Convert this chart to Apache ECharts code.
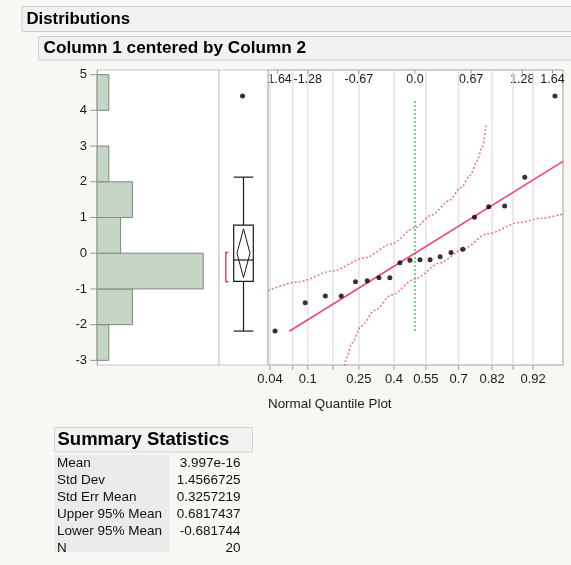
<!DOCTYPE html>
<html>
<head>
<meta charset="utf-8">
<script src="https://cdn.jsdelivr.net/npm/echarts@6/dist/echarts.min.js"></script>
<style>
  html, body { margin: 0; padding: 0; background: #f7f7f4; }
  #chart { width: 571px; height: 565px; }
</style>
</head>
<body>
<div id="chart"></div>
<script>
// Sorted observations of "Column 1 centered by Column 2"
const values = [-2.18, -1.39, -1.20, -1.20, -0.80, -0.77, -0.69, -0.69, -0.27, -0.20,
                -0.18, -0.18, -0.10, 0.02, 0.11, 1.01, 1.30, 1.32, 2.13, 4.40];
// Normal scores (x position of each observation in the quantile plot)
const normalScores = [-1.67, -1.31, -1.07, -0.88, -0.71, -0.57, -0.43, -0.30, -0.18, -0.06,
                      0.06, 0.18, 0.30, 0.43, 0.57, 0.71, 0.88, 1.07, 1.31, 1.67];

// Histogram bins (lower edge) and counts
const binStarts = [-3, -2, -1, 0, 1, 2, 3, 4];
const binCounts = [1, 3, 9, 2, 3, 1, 0, 1];

// Outlier box plot
const boxWhiskers = [-2.18, 2.13];
const boxQuartiles = [-0.79, -0.19, 0.785];
const boxOutliers = [4.40];
const shortestHalf = [-0.80, 0.02];

// Summary statistics
const statLabels = ['Mean', 'Std Dev', 'Std Err Mean', 'Upper 95% Mean', 'Lower 95% Mean', 'N'];
const statValues = [3.997e-16, 1.4566725, 0.3257219, 0.6817437, -0.681744, 20];
const statText = ['3.997e-16', '1.4566725', '0.3257219', '0.6817437', '-0.681744', '20'];

// Axis ticks
const yTicks = [-3, -2, -1, 0, 1, 2, 3, 4, 5];
const topTicks = [-1.64, -1.28, -0.67, 0, 0.67, 1.28, 1.64];
const topTickLabels = ['-1.64', '-1.28', '-0.67', '0.0', '0.67', '1.28', '1.64'];
const probGrid = [-1.73, -1.46, -1.28, -0.98, -0.67, -0.25, 0.13, 0.52, 0.92, 1.17, 1.41];
const probLabelAt = [-1.73, -1.28, -0.67, -0.25, 0.13, 0.52, 0.92, 1.41];
const probLabels = ['0.04', '0.1', '0.25', '0.4', '0.55', '0.7', '0.82', '0.92'];

// Confidence bands of the normal quantile plot: [normal score, value]
const upperBand = [[-1.754, -1.05], [-1.39, -0.80], [-0.99, -0.50], [-0.60, -0.13], [-0.28, 0.26],
                   [0, 0.72], [0.20, 1.07], [0.40, 1.46], [0.55, 1.84], [0.66, 2.18],
                   [0.74, 2.58], [0.80, 2.96], [0.85, 3.58]];
const lowerBand = [[-0.87, -3.60], [-0.815, -2.92], [-0.755, -2.52], [-0.64, -2.04], [-0.48, -1.60],
                   [-0.28, -1.17], [0, -0.72], [0.30, -0.27], [0.56, 0.09], [0.86, 0.54],
                   [1.25, 0.86], [1.50, 0.98], [1.766, 1.10]];
const fitRange = [-1.50, 1.766];
const medianRefRange = [-2.18, 4.32];

const Y_MIN = -3.13, Y_MAX = 5.13;
const Z_MIN = -1.754, Z_MAX = 1.766;
const FONT = '"Liberation Sans", Arial, sans-serif';

const chart = echarts.init(document.getElementById('chart'), null, { renderer: 'canvas' });

function lookup(ticks, labels, v) {
  for (let i = 0; i < ticks.length; i++) {
    if (Math.abs(ticks[i] - v) < 1e-6) return labels[i];
  }
  return '';
}

function renderBin(params, api) {
  const lo = api.value(0), hi = api.value(1), n = api.value(2);
  if (!n) return null;
  const a = api.coord([0, hi]);
  const b = api.coord([n, lo]);
  return {
    type: 'rect',
    shape: { x: a[0], y: a[1], width: b[0] - a[0], height: b[1] - a[1] },
    style: { fill: '#c5d6c7', stroke: '#7c897e', lineWidth: 1 }
  };
}

function renderBox(params, api) {
  const c = (x, y) => api.coord([x, y]);
  const [lo, hi] = boxWhiskers;
  const [q1, med, q3] = boxQuartiles;
  const mean = statValues[0], up = statValues[3], dn = statValues[4];
  const ink = '#1a1a1a';
  const seg = (p, q, w) => ({
    type: 'line',
    shape: { x1: p[0], y1: p[1], x2: q[0], y2: q[1] },
    style: { stroke: ink, lineWidth: w || 1.2 }
  });
  const tl = c(0.3, q3), br = c(0.7, q1);
  return {
    type: 'group',
    children: [
      seg(c(0.5, hi), c(0.5, q3)),
      seg(c(0.5, q1), c(0.5, lo)),
      seg(c(0.3, hi), c(0.7, hi)),
      seg(c(0.3, lo), c(0.7, lo)),
      {
        type: 'rect',
        shape: { x: tl[0], y: tl[1], width: br[0] - tl[0], height: br[1] - tl[1] },
        style: { fill: '#fff', stroke: ink, lineWidth: 1.2 }
      },
      seg(c(0.3, med), c(0.7, med)),
      {
        type: 'polygon',
        shape: { points: [c(0.5, up), c(0.633, mean), c(0.5, dn), c(0.367, mean)] },
        style: { fill: 'none', stroke: ink, lineWidth: 1 }
      },
      {
        type: 'polyline',
        shape: { points: [c(0.19, shortestHalf[1]), c(0.14, shortestHalf[1]),
                          c(0.14, shortestHalf[0]), c(0.19, shortestHalf[0])] },
        style: { fill: 'none', stroke: '#e8336b', lineWidth: 1.4 }
      }
    ]
  };
}

function renderGridLine(params, api) {
  const z = api.value(0);
  const a = api.coord([z, Y_MAX]);
  const b = api.coord([z, Y_MIN]);
  return {
    type: 'line',
    shape: { x1: a[0], y1: a[1], x2: b[0], y2: b[1] },
    style: { stroke: '#e3e3e3', lineWidth: 1.5 }
  };
}

// Tick marks: value axis ticks (left), probability ticks (below), normal-score ticks (inside top)
function tickRenderer(kind) {
  return function (params, api) {
    let p, q;
    if (kind === 'y') {
      p = api.coord([0, api.value(1)]);
      q = [p[0] - 7, p[1]];
    } else if (kind === 'bottom') {
      p = api.coord([api.value(0), Y_MIN]);
      q = [p[0], p[1] + 5];
    } else {
      p = api.coord([api.value(0), Y_MAX]);
      q = [p[0], p[1] + 4];
    }
    return {
      type: 'line',
      shape: { x1: p[0], y1: p[1], x2: q[0], y2: q[1] },
      style: { stroke: '#9c9c9c', lineWidth: 1 }
    };
  };
}

const mean = statValues[0], sd = statValues[1];
const fitLine = fitRange.map(z => [z, mean + sd * z]);

// Summary statistics table
const tableEls = [
  { type: 'rect', shape: { x: 54.5, y: 427.5, width: 198, height: 24.5 },
    style: { fill: '#f2f2f2', stroke: '#d2d2d2', lineWidth: 1 } },
  { type: 'text', style: { text: 'Summary Statistics', x: 57.5, y: 440,
    font: 'bold 18.5px ' + FONT, fill: '#000', textVerticalAlign: 'middle', verticalAlign: 'middle' } },
  { type: 'rect', shape: { x: 54, y: 455, width: 116, height: 97 },
    style: { fill: '#ebebeb' } }
];
statLabels.forEach((lab, i) => {
  const y = 463 + 17 * i;
  tableEls.push({ type: 'text', style: { text: lab, x: 57, y: y, font: '13.5px ' + FONT, fill: '#111',
    textVerticalAlign: 'middle', verticalAlign: 'middle' } });
  tableEls.push({ type: 'text', style: { text: statText[i], x: 240.5, y: y, font: '13.5px ' + FONT, fill: '#111',
    textAlign: 'right', align: 'right', textVerticalAlign: 'middle', verticalAlign: 'middle' } });
});

const option = {
  backgroundColor: '#f7f7f4',
  animation: false,
  textStyle: { fontFamily: FONT },
  grid: [
    { left: 97, top: 70, width: 122, height: 295, show: true, backgroundColor: '#fff', borderColor: '#c6c6c6', borderWidth: 1 },
    { left: 219, top: 70, width: 49, height: 295, show: true, backgroundColor: '#fff', borderColor: '#c6c6c6', borderWidth: 1 },
    { left: 268, top: 70, width: 295, height: 295, show: true, backgroundColor: '#fff', borderColor: '#c0c0c0', borderWidth: 1.5 }
  ],
  xAxis: [
    { gridIndex: 0, type: 'value', min: 0, max: 10.34, show: false },
    { gridIndex: 1, type: 'value', min: 0, max: 1, show: false },
    {
      gridIndex: 2, type: 'value', min: Z_MIN, max: Z_MAX, position: 'bottom',
      axisLine: { show: false },
      splitLine: { show: false },
      axisTick: { show: false },
      axisLabel: {
        customValues: probLabelAt, margin: 8, fontSize: 13, color: '#1a1a1a', fontFamily: FONT,
        formatter: v => lookup(probLabelAt, probLabels, v)
      }
    },
    {
      gridIndex: 2, type: 'value', min: Z_MIN, max: Z_MAX, position: 'top',
      axisLine: { show: false },
      splitLine: { show: false },
      axisTick: { show: false },
      axisLabel: {
        inside: true, customValues: topTicks, margin: 3, fontSize: 12.5, color: '#1a1a1a', fontFamily: FONT,
        formatter: v => lookup(topTicks, topTickLabels, v)
      }
    }
  ],
  yAxis: [
    {
      gridIndex: 0, type: 'value', min: Y_MIN, max: Y_MAX,
      axisLine: { show: true, lineStyle: { color: '#a9a9a9', width: 1 } },
      splitLine: { show: false },
      axisTick: { show: false },
      axisLabel: { customValues: yTicks, margin: 10, fontSize: 13, color: '#1a1a1a', fontFamily: FONT }
    },
    { gridIndex: 1, type: 'value', min: Y_MIN, max: Y_MAX, show: false },
    { gridIndex: 2, type: 'value', min: Y_MIN, max: Y_MAX, show: false }
  ],
  series: [
    {
      name: 'y ticks', type: 'custom', xAxisIndex: 0, yAxisIndex: 0, clip: false, silent: true,
      renderItem: tickRenderer('y'),
      encode: { x: 0, y: 1 },
      data: yTicks.map(v => [0, v])
    },
    {
      name: 'histogram', type: 'custom', xAxisIndex: 0, yAxisIndex: 0,
      renderItem: renderBin,
      encode: { x: 2, y: [0, 1] },
      data: binStarts.map((b, i) => [b, b + 1, binCounts[i]])
    },
    {
      name: 'box', type: 'custom', xAxisIndex: 1, yAxisIndex: 1,
      renderItem: renderBox,
      encode: { x: 0, y: 1 },
      data: [[0.5, boxQuartiles[1]]]
    },
    {
      name: 'outliers', type: 'scatter', xAxisIndex: 1, yAxisIndex: 1,
      symbol: 'circle', symbolSize: 5, itemStyle: { color: '#000' },
      data: boxOutliers.map(v => [0.48, v])
    },
    {
      name: 'grid lines', type: 'custom', xAxisIndex: 2, yAxisIndex: 2, z: 1, silent: true,
      renderItem: renderGridLine,
      encode: { x: 0, y: 1 },
      data: probGrid.map(z => [z, 0])
    },
    {
      name: 'probability ticks', type: 'custom', xAxisIndex: 2, yAxisIndex: 2, clip: false, silent: true,
      renderItem: tickRenderer('bottom'),
      encode: { x: 0, y: 1 },
      data: probGrid.map(z => [z, 0])
    },
    {
      name: 'score ticks', type: 'custom', xAxisIndex: 2, yAxisIndex: 2, clip: false, silent: true,
      renderItem: tickRenderer('top'),
      encode: { x: 0, y: 1 },
      data: topTicks.map(z => [z, 0])
    },
    {
      name: 'median reference', type: 'line', xAxisIndex: 2, yAxisIndex: 2,
      symbol: 'none', lineStyle: { color: '#2eb24c', width: 1.3, type: [2, 2] },
      data: medianRefRange.map(v => [0, v])
    },
    {
      name: 'upper band', type: 'line', xAxisIndex: 2, yAxisIndex: 2,
      symbol: 'none', smooth: 0.3, smoothMonotone: 'x', clip: true,
      lineStyle: { color: '#f3708f', width: 1.5, type: [2, 2] },
      data: upperBand
    },
    {
      name: 'lower band', type: 'line', xAxisIndex: 2, yAxisIndex: 2,
      symbol: 'none', smooth: 0.3, smoothMonotone: 'x', clip: true,
      lineStyle: { color: '#f3708f', width: 1.5, type: [2, 2] },
      data: lowerBand
    },
    {
      name: 'normal fit', type: 'line', xAxisIndex: 2, yAxisIndex: 2,
      symbol: 'none', clip: true,
      lineStyle: { color: '#f2456c', width: 1.6 },
      data: fitLine
    },
    {
      name: 'observations', type: 'scatter', xAxisIndex: 2, yAxisIndex: 2,
      symbol: 'circle', symbolSize: 5, itemStyle: { color: '#000' }, z: 5,
      data: normalScores.map((z, i) => [z, values[i]])
    }
  ],
  graphic: [
    { type: 'rect', z: 100, shape: { x: 22, y: 6.5, width: 560, height: 25 },
      style: { fill: '#f2f2f2', stroke: '#cfcfcf', lineWidth: 1 } },
    { type: 'text', z: 101, style: { text: 'Distributions', x: 26.5, y: 19.5,
      font: 'bold 16.8px ' + FONT, fill: '#000', textVerticalAlign: 'middle', verticalAlign: 'middle' } },
    { type: 'rect', z: 100, shape: { x: 38.5, y: 36.5, width: 545, height: 23.5 },
      style: { fill: '#f2f2f2', stroke: '#cfcfcf', lineWidth: 1 } },
    { type: 'text', z: 101, style: { text: 'Column 1 centered by Column 2', x: 43.5, y: 48.5,
      font: 'bold 17.2px ' + FONT, fill: '#000', textVerticalAlign: 'middle', verticalAlign: 'middle' } },
    // panel edge hides the overflow of the first top label
    { type: 'rect', z: 100, shape: { x: 255, y: 71, width: 12.2, height: 16 }, style: { fill: '#fff' } },
    { type: 'text', z: 101, style: { text: 'Normal Quantile Plot', x: 268, y: 404.5,
      font: '13.4px ' + FONT, fill: '#1a1a1a', textVerticalAlign: 'middle', verticalAlign: 'middle' } }
  ].concat(tableEls.map(e => Object.assign({ z: 100 }, e)))
};

chart.setOption(option);
</script>
</body>
</html>
